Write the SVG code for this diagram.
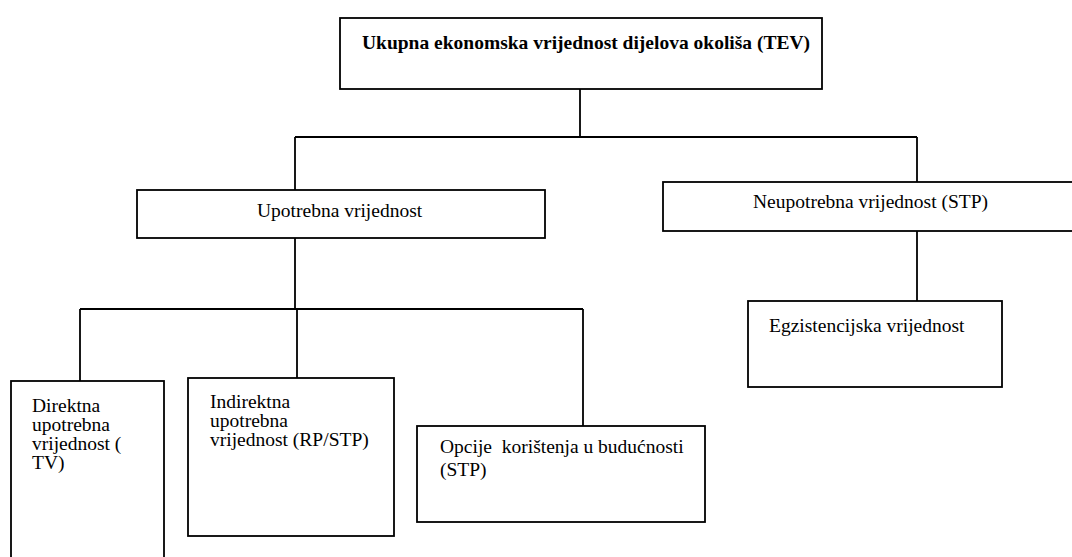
<svg xmlns="http://www.w3.org/2000/svg" width="1072" height="557" viewBox="0 0 1072 557">
<style>
.box{fill:#fff;stroke:#000;stroke-width:1.8}
.ln{fill:none;stroke:#000;stroke-width:1.8}
text{font-family:"Liberation Serif","Times New Roman",serif;font-size:19.5px;fill:#000}
.b{font-weight:bold}
</style>
<rect width="1072" height="557" fill="#fff"/>
<g id="connectors">
<path class="ln" d="M580,89 V137 M295,137 H917 M295,137 V190 M917,137 V182"/>
<path class="ln" d="M295,238 V309 M80,309 H583 M80,309 V381 M297,309 V378 M583,309 V426"/>
<path class="ln" d="M917,231 V301"/>
</g>
<g id="tev">
<rect class="box" x="340" y="18" width="482" height="71"/>
<text class="b" x="362" y="49">Ukupna ekonomska vrijednost dijelova okoliša (TEV)</text>
</g>
<g id="upotrebna">
<rect class="box" x="137" y="190" width="408" height="48"/>
<text x="257" y="217">Upotrebna vrijednost</text>
</g>
<g id="neupotrebna">
<rect class="box" x="663" y="182" width="415" height="49"/>
<text x="753" y="208">Neupotrebna vrijednost (STP)</text>
</g>
<g id="egzistencijska">
<rect class="box" x="748" y="301" width="254" height="86"/>
<text x="769" y="332">Egzistencijska vrijednost</text>
</g>
<g id="direktna">
<rect class="box" x="11" y="381" width="153" height="190"/>
<text x="32" y="412">Direktna</text>
<text x="32" y="431">upotrebna</text>
<text x="32" y="450">vrijednost (</text>
<text x="32" y="469">TV)</text>
</g>
<g id="indirektna">
<rect class="box" x="188" y="378" width="206" height="158"/>
<text x="210" y="408">Indirektna</text>
<text x="210" y="427">upotrebna</text>
<text x="210" y="446">vrijednost (RP/STP)</text>
</g>
<g id="opcije">
<rect class="box" x="417" y="426" width="288" height="96"/>
<text x="440" y="453" xml:space="preserve">Opcije  korištenja u budućnosti</text>
<text x="440" y="476">(STP)</text>
</g>
</svg>
